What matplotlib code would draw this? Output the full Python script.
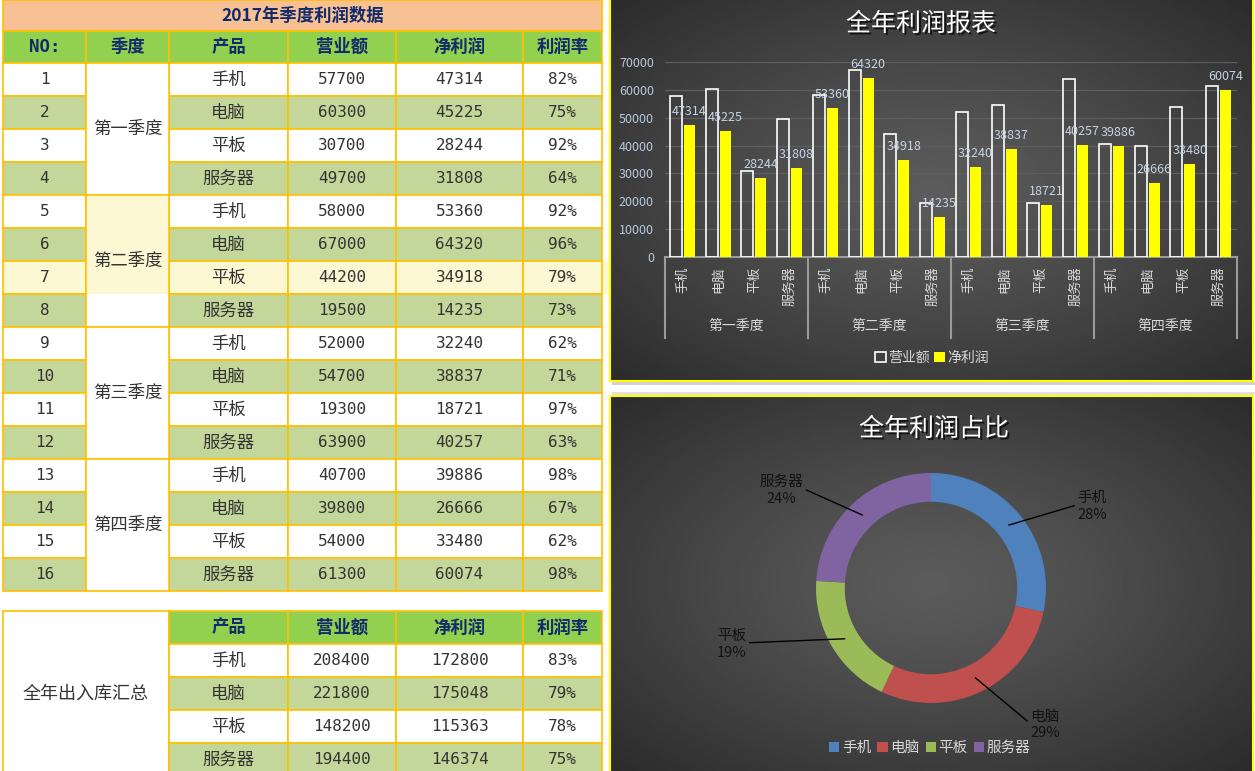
import matplotlib
matplotlib.use("Agg")
import matplotlib.pyplot as plt
import matplotlib.patheffects as pe
from matplotlib.patches import Rectangle, Patch
from matplotlib.transforms import blended_transform_factory
import numpy as np

plt.rcParams['font.family'] = ['Noto Sans CJK SC', 'DejaVu Sans']

# ---- data ----
quarters = ['第一季度', '第二季度', '第三季度', '第四季度']
products = ['手机', '电脑', '平板', '服务器']
revenue = [57700, 60300, 30700, 49700,
           58000, 67000, 44200, 19500,
           52000, 54700, 19300, 63900,
           40700, 39800, 54000, 61300]
profit = [47314, 45225, 28244, 31808,
          53360, 64320, 34918, 14235,
          32240, 38837, 18721, 40257,
          39886, 26666, 33480, 60074]
header = ['NO:', '季度', '产品', '营业额', '净利润', '利润率']
sum_label = '全年出入库汇总'
pie_colors = ['#4F81BD', '#C0504D', '#9BBB59', '#8064A2']

rev_arr = np.array(revenue).reshape(4, 4)
pro_arr = np.array(profit).reshape(4, 4)
total_rev = rev_arr.sum(axis=0)
total_pro = pro_arr.sum(axis=0)

W, H = 1255, 771
fig = plt.figure(figsize=(W / 100, H / 100), dpi=100)
base = fig.add_axes([0, 0, 1, 1])
base.axis('off')

NAVY = '#112A6C'
TXT = '#333333'
BORDER = '#FFC000'
GREEN_H = '#92D050'
GREEN_L = '#C4D79B'
CREAM = '#FBF8D3'
MONO = ['DejaVu Sans Mono', 'Noto Sans CJK SC']
CJK = ['Noto Sans CJK SC', 'DejaVu Sans']


def cell(x0, x1, y0, y1, fc, txt='', color=TXT, bold=False, size=None, mono=False):
    base.add_patch(Rectangle((x0, y0), x1 - x0, y1 - y0, facecolor=fc,
                             edgecolor=BORDER, lw=1.2, zorder=2))
    if txt:
        if size is None:
            size = 11.5 if mono else 12.5
        base.text((x0 + x1) / 2, (y0 + y1) / 2, txt, ha='center', va='center',
                  color=color, fontsize=size, zorder=3, family=MONO if mono else CJK,
                  fontweight='bold' if bold else 'normal')


def radial_bg(x0, y0, x1, y1, c_in=0.36, c_out=0.17):
    yy, xx = np.mgrid[0:1:150j, 0:1:250j]
    r = np.hypot(xx - 0.5, yy - 0.5) / 0.7071
    v = c_in - (c_in - c_out) * r ** 1.2
    base.imshow(v, cmap='gray', vmin=0, vmax=1, extent=(x0, x1, y1, y0),
                aspect='auto', zorder=0, interpolation='bilinear')


# ---- main table ----
cols = [3, 86, 169, 288, 396, 523, 602]
top, rh = 63, 33
cell(cols[0], cols[-1], 0, 31, '#F8C193', '2017年季度利润数据', NAVY, bold=True, size=12.5)
for j, h in enumerate(header):
    cell(cols[j], cols[j + 1], 31, top, GREEN_H, h, NAVY, bold=True, mono=(j == 0), size=12.5)

for i in range(16):
    y0, y1 = top + rh * i, top + rh * (i + 1)
    fc = GREEN_L if i % 2 else 'white'
    if i == 6:
        fc = CREAM
        base.add_patch(Rectangle((602, y0), 7, rh, facecolor=CREAM, edgecolor='none', zorder=1))
    rate = '%d%%' % round(profit[i] / revenue[i] * 100)
    vals = [str(i + 1), None, products[i % 4], str(revenue[i]), str(profit[i]), rate]
    for j, v in enumerate(vals):
        if v is None:
            continue
        cell(cols[j], cols[j + 1], y0, y1, fc, v, mono=(j != 2))

for q in range(4):
    y0, y1 = top + rh * 4 * q, top + rh * 4 * (q + 1)
    cell(cols[1], cols[2], y0, y1, 'white')
    if q == 1:
        base.add_patch(Rectangle((cols[1] + 1, y0 + 1), cols[2] - cols[1] - 2, rh * 3 - 1,
                                 facecolor=CREAM, edgecolor='none', zorder=2))
    base.text((cols[1] + cols[2]) / 2, (y0 + y1) / 2, quarters[q], ha='center',
              va='center', color=TXT, fontsize=12.5, zorder=3)

# ---- summary table ----
s_top = 611
cell(cols[0], cols[2], s_top, 776, 'white', sum_label, TXT, size=13)
for j, h in enumerate(header[2:]):
    cell(cols[j + 2], cols[j + 3], s_top, s_top + 33, GREEN_H, h, NAVY, bold=True)
for i in range(4):
    y0, y1 = s_top + 33 + rh * i, s_top + 33 + rh * (i + 1)
    fc = GREEN_L if i % 2 else 'white'
    rate = '%d%%' % round(total_pro[i] / total_rev[i] * 100)
    for j, v in enumerate([products[i], str(total_rev[i]), str(total_pro[i]), rate]):
        cell(cols[j + 2], cols[j + 3], y0, y1, fc, v, mono=(j != 0))

# ---- chart panels ----
radial_bg(610, 0, 1253, 381)
base.add_patch(Rectangle((610, -2), 643, 383, facecolor='none', edgecolor='#FFFF00', lw=1.5, zorder=4))
radial_bg(610, 396, 1253, 771)
base.add_patch(Rectangle((610, 396), 643, 378, facecolor='none', edgecolor='#FFFF00', lw=1.5, zorder=4))
base.add_patch(Rectangle((612, 382), 643, 3, facecolor='#cfcfcf', edgecolor='none', zorder=1))
base.add_patch(Rectangle((612, 392), 643, 3, facecolor='#e0e0e0', edgecolor='none', zorder=1))
base.set_xlim(0, W)
base.set_ylim(H, 0)

shadow = [pe.withSimplePatchShadow(offset=(1.5, -1.5), shadow_rgbFace='black', alpha=0.7)]
base.text(921, 24, '全年利润报表', ha='center', va='center', color='white',
          fontsize=18, zorder=5, path_effects=shadow)
base.text(934, 429, '全年利润占比', ha='center', va='center', color='white',
          fontsize=18, zorder=5, path_effects=shadow)

# ---- bar chart ----
bx0, bx1, by0, by1 = 665, 1237, 62, 257
ax = fig.add_axes([bx0 / W, 1 - by1 / H, (bx1 - bx0) / W, (by1 - by0) / H])
ax.patch.set_alpha(0)
x = np.arange(16)
ax.bar(x - 0.196, revenue, width=0.336, facecolor='none', edgecolor='white', lw=1.2, zorder=3)
ax.bar(x + 0.18, profit, width=0.31, color='#FFFF00', zorder=3)
for xi, v in zip(x, profit):
    ax.annotate(str(v), (xi + 0.18, v), xytext=(0, 5), textcoords='offset points',
                ha='center', va='bottom', color='#C8D4E4', fontsize=9, zorder=4)
ax.set_xlim(-0.5, 15.5)
ax.set_ylim(0, 70000)
ax.set_yticks(np.arange(0, 70001, 10000))
ax.yaxis.grid(True, color='#5e5e5e', lw=0.9)
ax.set_axisbelow(True)
ax.tick_params(axis='y', length=0, pad=8, labelcolor='#B8C8DC', labelsize=9)
ax.set_xticks(x)
ax.set_xticklabels(products * 4, rotation=90, color='#D9D9D9', fontsize=9.5)
ax.tick_params(axis='x', length=0, pad=7)
for s in ['top', 'right', 'left']:
    ax.spines[s].set_visible(False)
ax.spines['bottom'].set_color('#9a9a9a')
ax.spines['bottom'].set_linewidth(1.5)
tr = blended_transform_factory(ax.transData, ax.transAxes)
depth = (338 - by1) / (by1 - by0)
for g in range(5):
    ax.plot([g * 4 - 0.5] * 2, [0, -depth], transform=tr, color='#9a9a9a',
            lw=1.5, clip_on=False)
for g in range(4):
    ax.text(g * 4 + 1.5, -(326 - by1) / (by1 - by0), quarters[g], transform=tr,
            ha='center', va='center', color='#D9D9D9', fontsize=10)
fig.legend(handles=[Patch(facecolor='none', edgecolor='white', lw=1.2),
                    Patch(facecolor='#FFFF00')],
           labels=['营业额', '净利润'], loc='center', ncol=2,
           bbox_to_anchor=(932 / W, 1 - 358 / H), frameon=False,
           labelcolor='#D9D9D9', fontsize=10, handlelength=0.75, handleheight=0.75,
           handletextpad=0.2, columnspacing=0.3)

# ---- donut ----
cx, cy, R = 931, 588, 115
pax = fig.add_axes([(cx - R) / W, 1 - (cy + R) / H, 2 * R / W, 2 * R / H])
pax.patch.set_alpha(0)
pax.pie(total_pro, colors=pie_colors, startangle=90, counterclock=False,
        radius=1, wedgeprops=dict(width=0.25, edgecolor='none'))
pax.set_xlim(-1, 1)
pax.set_ylim(-1, 1)
pax.set_aspect('auto')
pax.axis('off')

fracs = total_pro / total_pro.sum()
cum = np.concatenate([[0], np.cumsum(fracs)[:-1]])
mids = np.deg2rad(90 - 360 * (cum + fracs / 2))
label_xy = [(1.40, 0.71), (0.99, -1.19), (-1.73, -0.49), (-1.30, 0.85)]
for k in range(4):
    a = mids[k]
    lx, ly = label_xy[k]
    right = lx > 0
    pax.annotate('%s\n%d%%' % (products[k], round(fracs[k] * 100)),
                 xy=(0.87 * np.cos(a), 0.87 * np.sin(a)), xytext=(lx, ly),
                 ha='center', va='center', color='#111111', fontsize=10.5,
                 linespacing=1.25, annotation_clip=False,
                 arrowprops=dict(arrowstyle='-', color='black', lw=1,
                                 shrinkA=0, shrinkB=0,
                                 relpos=(0, 0.55) if right else (1, 0.55)))
fig.legend(handles=[Patch(facecolor=c) for c in pie_colors], labels=products,
           loc='center', ncol=4, bbox_to_anchor=(930 / W, 1 - 748 / H),
           frameon=False, labelcolor='#D9D9D9', fontsize=10.5, handlelength=0.7,
           handleheight=0.7, handletextpad=0.2, columnspacing=0.4)

fig.savefig('out.png', dpi=100)
